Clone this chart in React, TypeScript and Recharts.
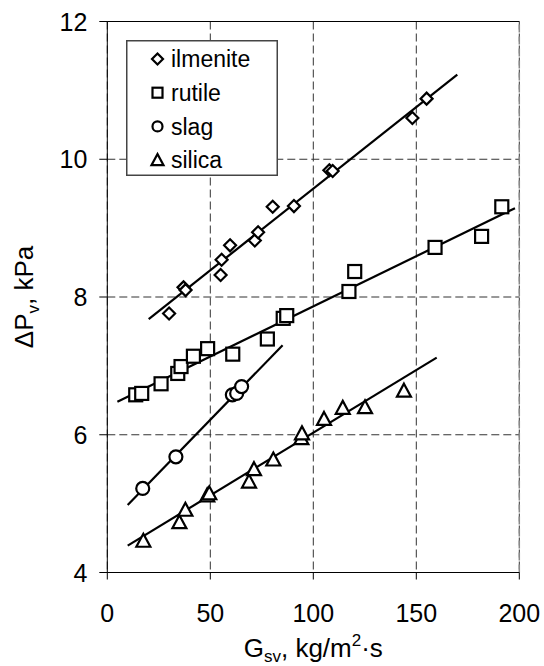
import React from 'react'
import {
  CartesianGrid,
  Label,
  Legend,
  ReferenceLine,
  Scatter,
  ScatterChart,
  XAxis,
  YAxis,
} from 'recharts'

const FONT = '"Liberation Sans", Arial, sans-serif'

const xTicks = [0, 50, 100, 150, 200]
const yTicks = [4, 6, 8, 10, 12]

const ilmeniteX = [30, 37, 38, 55, 55.5, 59.6, 71.6, 73.2, 80.3, 90.6, 107.8, 109.4, 148.1, 155]
const ilmeniteY = [7.76, 8.14, 8.1, 8.32, 8.54, 8.75, 8.82, 8.94, 9.31, 9.32, 9.84, 9.83, 10.6, 10.88]

const rutileX = [13.8, 16.7, 26.1, 34.2, 35.8, 41.8, 48.7, 60.9, 77.7, 85.4, 87.1, 117.3, 120.1, 159.1, 181.7, 191.5]
const rutileY = [6.58, 6.6, 6.74, 6.89, 6.99, 7.14, 7.25, 7.17, 7.39, 7.69, 7.73, 8.08, 8.37, 8.72, 8.88, 9.31]

const slagX = [17.2, 33.3, 60.7, 62.8, 65.2]
const slagY = [5.22, 5.68, 6.58, 6.6, 6.7]

const silicaX = [17.5, 35, 37.9, 48.5, 49.5, 68.8, 71.2, 80.6, 94.2, 94.5, 105.2, 114.3, 125.1, 144]
const silicaY = [4.46, 4.73, 4.91, 5.12, 5.15, 5.32, 5.5, 5.64, 5.95, 6.02, 6.23, 6.39, 6.4, 6.64]

// trend line end points
const ilmeniteFitX = [20.1, 169.9]
const ilmeniteFitY = [7.68, 11.23]
const rutileFitX = [4.9, 197.9]
const rutileFitY = [6.48, 9.29]
const slagFitX = [9.9, 85.1]
const slagFitY = [4.98, 7.3]
const silicaFitX = [9.9, 159.9]
const silicaFitY = [4.39, 7.12]

const zip = (xs: number[], ys: number[]) => xs.map((x, i) => ({ x, y: ys[i] }))

const Diamond = ({ cx, cy, s = 6 }: any) => (
  <path
    d={`M${cx},${cy - s}L${cx + s},${cy}L${cx},${cy + s}L${cx - s},${cy}Z`}
    fill='#fff'
    stroke='#000'
    strokeWidth={2.2}
  />
)
const Square = ({ cx, cy, s = 6.5 }: any) => (
  <rect x={cx - s} y={cy - s} width={s * 2} height={s * 2} fill='#fff' stroke='#000' strokeWidth={2.2} />
)
const Circle = ({ cx, cy, s = 6.5 }: any) => (
  <circle cx={cx} cy={cy} r={s} fill='#fff' stroke='#000' strokeWidth={2.2} />
)
const Triangle = ({ cx, cy, s = 7 }: any) => (
  <path
    d={`M${cx},${cy - s}L${cx + s},${cy + s * 0.85}L${cx - s},${cy + s * 0.85}Z`}
    fill='#fff'
    stroke='#000'
    strokeWidth={2.2}
    strokeLinejoin='miter'
  />
)

const legendItems = [
  { name: 'ilmenite', Icon: Diamond, s: 5.5 },
  { name: 'rutile', Icon: Square, s: 5 },
  { name: 'slag', Icon: Circle, s: 5 },
  { name: 'silica', Icon: Triangle, s: 6 },
]

const LegendBox = () => (
  <svg width={152} height={136} style={{ display: 'block' }}>
    <rect x={0.75} y={0.75} width={150.5} height={134.5} fill='#fff' stroke='#444' strokeWidth={1.5} />
    {legendItems.map((it, i) => {
      const cy = 19 + i * 33.7
      return (
        <g key={it.name}>
          <it.Icon cx={31.5} cy={cy} s={it.s} />
          <text x={45} y={cy} dy='0.36em' fontSize={23} fontFamily={FONT} fill='#000'>
            {it.name}
          </text>
        </g>
      )
    })}
  </svg>
)

const XTick = ({ x, y, payload }: any) => (
  <text x={x} y={y} dy={18} textAnchor='middle' fontSize={25} fontFamily={FONT} fill='#000'>
    {payload.value}
  </text>
)
const YTick = ({ x, y, payload }: any) => (
  <text x={x} y={y} dy={9} textAnchor='end' fontSize={25} fontFamily={FONT} fill='#000'>
    {payload.value}
  </text>
)

const none = () => <g />

export default function App() {
  return (
    <div style={{ position: 'absolute', left: 0, top: 0, background: '#fff' }}>
      <ScatterChart width={544} height={666} margin={{ top: 21.5, right: 24.7, bottom: 0, left: 0 }}>
        <CartesianGrid stroke='#333' strokeDasharray='8 4' strokeWidth={1} />
        <XAxis
          type='number'
          dataKey='x'
          domain={[0, 200]}
          ticks={xTicks}
          height={93.5}
          stroke='#000'
          tickSize={7}
          tickMargin={24}
          tick={<XTick />}
          allowDataOverflow
        >
          <Label
            content={({ viewBox }: any) => (
              <text
                x={viewBox.x + viewBox.width / 2}
                y={657}
                textAnchor='middle'
                fontSize={26}
                fontFamily={FONT}
                fill='#000'
              >
                G<tspan dy={5} fontSize={17}>sv</tspan>
                <tspan dy={-5}>, kg/m</tspan>
                <tspan dy={-11} fontSize={17}>2</tspan>
                <tspan dy={11}>·s</tspan>
              </text>
            )}
          />
        </XAxis>
        <YAxis
          type='number'
          dataKey='y'
          domain={[4, 12]}
          ticks={yTicks}
          width={107.3}
          stroke='#000'
          tickSize={8}
          tickMargin={12}
          tick={<YTick />}
          allowDataOverflow
        >
          <Label
            content={({ viewBox }: any) => {
              const cx = 33
              const cy = viewBox.y + viewBox.height / 2
              return (
                <text
                  x={cx}
                  y={cy}
                  transform={`rotate(-90 ${cx} ${cy})`}
                  textAnchor='middle'
                  fontSize={26}
                  fontFamily={FONT}
                  fill='#000'
                >
                  ΔP<tspan dy={6} fontSize={17}>v</tspan>
                  <tspan dy={-6}>, kPa</tspan>
                </text>
              )
            }}
          />
        </YAxis>
        <ReferenceLine x={200} stroke='#888' strokeDasharray='8 4' strokeWidth={1.5} />
        <ReferenceLine y={12} stroke='#000' strokeWidth={1.2} />

        <Scatter data={zip(ilmeniteFitX, ilmeniteFitY)} line={{ stroke: '#000', strokeWidth: 2.2 }} shape={none} legendType='none' isAnimationActive={false} />
        <Scatter data={zip(rutileFitX, rutileFitY)} line={{ stroke: '#000', strokeWidth: 2.2 }} shape={none} legendType='none' isAnimationActive={false} />
        <Scatter data={zip(slagFitX, slagFitY)} line={{ stroke: '#000', strokeWidth: 2.2 }} shape={none} legendType='none' isAnimationActive={false} />
        <Scatter data={zip(silicaFitX, silicaFitY)} line={{ stroke: '#000', strokeWidth: 2.2 }} shape={none} legendType='none' isAnimationActive={false} />

        <Scatter name='ilmenite' data={zip(ilmeniteX, ilmeniteY)} shape={(p: any) => <Diamond cx={p.cx} cy={p.cy} />} isAnimationActive={false} />
        <Scatter name='rutile' data={zip(rutileX, rutileY)} shape={(p: any) => <Square cx={p.cx} cy={p.cy} />} isAnimationActive={false} />
        <Scatter name='slag' data={zip(slagX, slagY)} shape={(p: any) => <Circle cx={p.cx} cy={p.cy} />} isAnimationActive={false} />
        <Scatter name='silica' data={zip(silicaX, silicaY)} shape={(p: any) => <Triangle cx={p.cx} cy={p.cy} />} isAnimationActive={false} />

        <Legend
          layout='vertical'
          align='center'
          verticalAlign='middle'
          content={() => <LegendBox />}
          wrapperStyle={{ left: 126, top: 40, width: 152, height: 136 }}
        />
      </ScatterChart>
    </div>
  )
}
